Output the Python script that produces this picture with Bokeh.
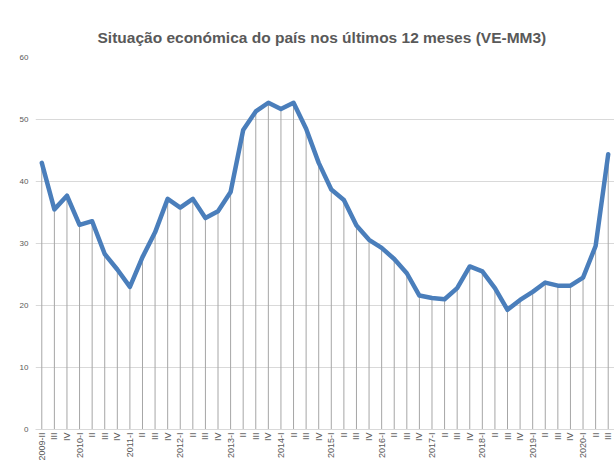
import math
from bokeh.plotting import figure
from bokeh.models import Range1d, FixedTicker, ColumnDataSource
from bokeh.embed import file_html
from bokeh.resources import INLINE

# ---- data ----
periods = ["2009-II", "III", "IV",
           "2010-I", "II", "III", "IV",
           "2011-I", "II", "III", "IV",
           "2012-I", "II", "III", "IV",
           "2013-I", "II", "III", "IV",
           "2014-I", "II", "III", "IV",
           "2015-I", "II", "III", "IV",
           "2016-I", "II", "III", "IV",
           "2017-I", "II", "III", "IV",
           "2018-I", "II", "III", "IV",
           "2019-I", "II", "III", "IV",
           "2020-I", "II", "III"]
values = [43.0, 35.5, 37.7,
          33.0, 33.6, 28.3, 25.8,
          23.0, 27.8, 31.8, 37.2,
          35.8, 37.2, 34.1, 35.2,
          38.3, 48.3, 51.3, 52.7,
          51.7, 52.7, 48.5, 43.0,
          38.7, 37.0, 32.9, 30.6,
          29.3, 27.5, 25.2, 21.6,
          21.2, 21.0, 22.8, 26.3,
          25.5, 22.8, 19.3, 20.9,
          22.2, 23.7, 23.2, 23.2,
          24.5, 29.6, 44.4]
y_ticks = [0, 10, 20, 30, 40, 50, 60]
title_text = "Situação económica do país nos últimos 12 meses (VE-MM3)"

idx = list(range(len(periods)))
src = ColumnDataSource(dict(x=idx, y=values, y0=[0] * len(idx)))

p = figure(width=614, height=463, output_backend="svg", toolbar_location=None,
           x_range=Range1d(-0.5, len(periods) - 0.5), y_range=Range1d(0, 60),
           min_border_left=35, min_border_right=0, min_border_top=57, min_border_bottom=34)
p.outline_line_color = None
p.background_fill_color = "white"
p.border_fill_color = "white"

p.title.text = title_text
p.title.align = "left"
p.title.offset = 62
p.title.standoff = 24
p.title.text_font = "Liberation Sans"
p.title.text_font_size = "15.5px"
p.title.text_font_style = "bold"
p.title.text_color = "#595959"

# drop lines
p.segment(x0="x", y0="y0", x1="x", y1="y", source=src, line_color="#a6a6a6", line_width=1)
# main line
p.line("x", "y", source=src, line_color="#4a7ebb", line_width=4.5, line_join="round", line_cap="round")

p.xgrid.visible = False
p.ygrid.grid_line_color = "#d9d9d9"
p.ygrid.ticker = FixedTicker(ticks=y_ticks)

p.yaxis.ticker = FixedTicker(ticks=y_ticks)
p.yaxis.axis_line_color = None
p.yaxis.major_tick_line_color = None
p.yaxis.minor_tick_line_color = None
p.yaxis.major_tick_out = 0
p.yaxis.major_tick_in = 0
p.yaxis.minor_tick_out = 0
p.yaxis.major_label_text_font = "Liberation Sans"
p.yaxis.major_label_text_font_size = "8px"
p.yaxis.major_label_text_color = "#595959"
p.yaxis.major_label_standoff = 7

p.xaxis.ticker = FixedTicker(ticks=idx)
p.xaxis.major_label_overrides = {i: lab for i, lab in zip(idx, periods)}
p.xaxis.major_label_orientation = math.pi / 2
p.xaxis.axis_line_color = "#d9d9d9"
p.xaxis.major_tick_line_color = None
p.xaxis.minor_tick_line_color = None
p.xaxis.major_tick_out = 0
p.xaxis.major_tick_in = 0
p.xaxis.minor_tick_out = 0
p.xaxis.major_label_text_font = "Liberation Sans"
p.xaxis.major_label_text_font_size = "9px"
p.xaxis.major_label_text_color = "#595959"
p.xaxis.major_label_standoff = 3

open("out.html", "w").write(file_html(p, INLINE))
